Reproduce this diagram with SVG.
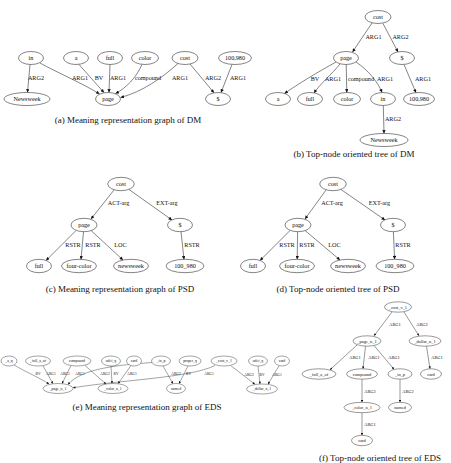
<svg xmlns="http://www.w3.org/2000/svg" width="451" height="463" viewBox="0 0 451 463">
<defs>
<marker id="ah" viewBox="0 0 10 10" refX="10" refY="5" markerWidth="4.5" markerHeight="3.4" markerUnits="userSpaceOnUse" orient="auto"><path d="M0,0 L10,5 L0,10 z" fill="#111"/></marker>
<marker id="as" viewBox="0 0 10 10" refX="10" refY="5" markerWidth="3" markerHeight="2.4" markerUnits="userSpaceOnUse" orient="auto"><path d="M0,0 L10,5 L0,10 z" fill="#111"/></marker>
</defs>
<style>
text{font-family:"Liberation Serif","Times New Roman",serif;fill:#111;text-anchor:middle}
ellipse{fill:#fff;stroke:#333;stroke-width:0.6}
.n text{font-size:6.2px}
.e path{fill:none;stroke:#333;stroke-width:0.6;marker-end:url(#ah)}
.e text{font-size:6.2px}
.es path{fill:none;stroke:#333;stroke-width:0.45;marker-end:url(#as)}
.es text{font-size:3.6px}
.ns ellipse{stroke-width:0.45}
.ns text{font-size:3.8px}
.nf ellipse{stroke-width:0.5}
.nf text{font-size:4.4px}
.ef path{fill:none;stroke:#333;stroke-width:0.5;marker-end:url(#as)}
.ef text{font-size:4.4px}
.cap{font-size:9px}
</style>

<!-- Panel (a) -->
<g id="edges-a" class="e">
<path d="M30,64.5 L27.5,92.5"/>
<path d="M40,63 C56,72 84,84 99.5,94"/>
<path d="M79,64.5 L104,92.6"/>
<path d="M110,64.5 L109,92.5"/>
<path d="M142,64.5 C136,78 126,88 115.5,93.5"/>
<path d="M178,63.5 C162,78 142,92 120.5,97.5"/>
<path d="M190,64 L214,92.8"/>
<path d="M232,64.5 L221,92.6"/>
<text x="36" y="80">ARG2</text>
<text x="80" y="80">ARG1</text>
<text x="99" y="80">BV</text>
<text x="118" y="80">ARG1</text>
<text x="148" y="80">compound</text>
<text x="180" y="80">ARG1</text>
<text x="213" y="80">ARG2</text>
<text x="238" y="80">ARG1</text>
</g>
<g id="a-in" class="n"><ellipse cx="31" cy="58" rx="12.5" ry="6.5"/><text x="31" y="60">in</text></g>
<g id="a-a" class="n"><ellipse cx="76" cy="58" rx="12.5" ry="6.5"/><text x="76" y="60">a</text></g>
<g id="a-full" class="n"><ellipse cx="110" cy="58" rx="12.5" ry="6.5"/><text x="110" y="60">full</text></g>
<g id="a-color" class="n"><ellipse cx="145" cy="58" rx="13.5" ry="6.5"/><text x="145" y="60">color</text></g>
<g id="a-cost" class="n"><ellipse cx="185" cy="58" rx="13" ry="6.5"/><text x="185" y="60">cost</text></g>
<g id="a-100980" class="n"><ellipse cx="235" cy="58" rx="16.5" ry="6.5"/><text x="235" y="60">100,980</text></g>
<g id="a-newsweek" class="n"><ellipse cx="27" cy="99" rx="23" ry="6.5"/><text x="27" y="101">Newsweek</text></g>
<g id="a-page" class="n"><ellipse cx="108" cy="99" rx="12.5" ry="6.5"/><text x="108" y="101">page</text></g>
<g id="a-dollar" class="n"><ellipse cx="218" cy="99" rx="12.5" ry="6.5"/><text x="218" y="101">$</text></g>
<text class="cap" x="128" y="123">(a) Meaning representation graph of DM</text>

<!-- Panel (b) -->
<g id="edges-b" class="e">
<path d="M372,23 L352.5,52"/>
<path d="M383,23.5 L398,52"/>
<path d="M336,62 C318,72 298,84 284.5,93.5"/>
<path d="M340,64 C332,74 320,84 314,93"/>
<path d="M346.2,64.5 L346.8,92.5"/>
<path d="M356,62 C368,70 378,82 382,92.5"/>
<path d="M404,64.5 L416,92.8"/>
<path d="M383.3,105.5 L384,133.5"/>
<text x="373.5" y="39">ARG1</text>
<text x="400.5" y="39">ARG2</text>
<text x="315" y="81">BV</text>
<text x="333" y="81">ARG1</text>
<text x="361" y="81">compound</text>
<text x="385" y="81">ARG1</text>
<text x="423" y="81">ARG1</text>
<text x="393" y="121">ARG2</text>
</g>
<g id="b-cost" class="n"><ellipse cx="378" cy="17" rx="13" ry="6.5"/><text x="378" y="19">cost</text></g>
<g id="b-page" class="n"><ellipse cx="346" cy="58" rx="12.5" ry="6.5"/><text x="346" y="60">page</text></g>
<g id="b-dollar" class="n"><ellipse cx="402" cy="58" rx="12.5" ry="6.5"/><text x="402" y="60">$</text></g>
<g id="b-a" class="n"><ellipse cx="278" cy="99" rx="12.5" ry="6.5"/><text x="278" y="101">a</text></g>
<g id="b-full" class="n"><ellipse cx="310" cy="99" rx="12.5" ry="6.5"/><text x="310" y="101">full</text></g>
<g id="b-color" class="n"><ellipse cx="347" cy="99" rx="13.5" ry="6.5"/><text x="347" y="101">color</text></g>
<g id="b-in" class="n"><ellipse cx="383" cy="99" rx="12.5" ry="6.5"/><text x="383" y="101">in</text></g>
<g id="b-100980" class="n"><ellipse cx="419" cy="99" rx="15.5" ry="6.5"/><text x="419" y="101">100,980</text></g>
<g id="b-newsweek" class="n"><ellipse cx="384" cy="140" rx="24" ry="6.5"/><text x="384" y="142">Newsweek</text></g>
<text class="cap" x="354" y="157">(b) Top-node oriented tree of DM</text>

<!-- Panel (c) -->
<g id="edges-c" class="e">
<path d="M114,190 L91,219"/>
<path d="M129,189.5 L172,220"/>
<path d="M76,230.5 L46,260.5"/>
<path d="M83.5,231.5 L81,259.5"/>
<path d="M91,230.5 L123,260"/>
<path d="M181,231.5 L184,259.5"/>
<text x="118.5" y="205">ACT-arg</text>
<text x="167" y="205">EXT-arg</text>
<text x="73" y="247">RSTR</text>
<text x="93" y="247">RSTR</text>
<text x="120.5" y="247">LOC</text>
<text x="192" y="247">RSTR</text>
</g>
<g id="c-cost" class="n"><ellipse cx="121" cy="184" rx="13.3" ry="6.7"/><text x="121" y="186">cost</text></g>
<g id="c-page" class="n"><ellipse cx="84" cy="225" rx="13" ry="6.7"/><text x="84" y="227">page</text></g>
<g id="c-dollar" class="n"><ellipse cx="180" cy="225" rx="12.5" ry="6.7"/><text x="180" y="227">$</text></g>
<g id="c-full" class="n"><ellipse cx="39" cy="266" rx="12.5" ry="6.7"/><text x="39" y="268">full</text></g>
<g id="c-fourcolor" class="n"><ellipse cx="79" cy="266" rx="17.5" ry="6.7"/><text x="79" y="268">four-color</text></g>
<g id="c-newsweek" class="n"><ellipse cx="131" cy="266" rx="17.5" ry="6.7"/><text x="131" y="268">newsweek</text></g>
<g id="c-100980" class="n"><ellipse cx="185" cy="266" rx="19" ry="6.7"/><text x="185" y="268">100_980</text></g>
<text class="cap" x="120" y="292">(c) Meaning representation graph of PSD</text>

<!-- Panel (d) -->
<g id="edges-d" class="e">
<path d="M326,190 L305,219"/>
<path d="M341,189.5 L385,220"/>
<path d="M290,230.5 L260,260.5"/>
<path d="M297.6,231.7 L297.2,259.3"/>
<path d="M305,230.5 L340,260"/>
<path d="M393.4,231.7 L394.6,259.3"/>
<text x="332" y="205">ACT-arg</text>
<text x="379.5" y="205">EXT-arg</text>
<text x="287" y="247">RSTR</text>
<text x="307" y="247">RSTR</text>
<text x="334.5" y="247">LOC</text>
<text x="403" y="247">RSTR</text>
</g>
<g id="d-cost" class="n"><ellipse cx="333" cy="184" rx="13.3" ry="6.7"/><text x="333" y="186">cost</text></g>
<g id="d-page" class="n"><ellipse cx="298" cy="225" rx="13" ry="6.7"/><text x="298" y="227">page</text></g>
<g id="d-dollar" class="n"><ellipse cx="393" cy="225" rx="12.5" ry="6.7"/><text x="393" y="227">$</text></g>
<g id="d-full" class="n"><ellipse cx="253" cy="266" rx="12.5" ry="6.7"/><text x="253" y="268">full</text></g>
<g id="d-fourcolor" class="n"><ellipse cx="297" cy="266" rx="17.5" ry="6.7"/><text x="297" y="268">four-color</text></g>
<g id="d-newsweek" class="n"><ellipse cx="348" cy="266" rx="17.5" ry="6.7"/><text x="348" y="268">newsweek</text></g>
<g id="d-100980" class="n"><ellipse cx="395" cy="266" rx="19" ry="6.7"/><text x="395" y="268">100_980</text></g>
<text class="cap" x="338" y="292">(d) Top-node oriented tree of PSD</text>

<!-- Panel (e) -->
<g id="edges-e" class="es">
<path d="M14,365 C26,372 40,378 49,384"/>
<path d="M43,365.8 L53,383.8"/>
<path d="M71,365.5 L62,383.6"/>
<path d="M152,362.5 C120,365 82,368 68,384.5"/>
<path d="M85,365.5 L106,384"/>
<path d="M111,366 L112,383.5"/>
<path d="M131,365.5 L118,383.7"/>
<path d="M163,366 L173,383.8"/>
<path d="M188,366 L179,383.8"/>
<path d="M215,365.5 C190,378 120,380 73,387.8"/>
<path d="M231,365.8 L255,384.3"/>
<path d="M258,366 L260,384"/>
<path d="M279,365.8 L268,384.2"/>
<text x="38" y="375">BV</text>
<text x="51" y="375">ARG1</text>
<text x="65" y="375">ARG1</text>
<text x="80" y="375">ARG1</text>
<text x="105" y="375">ARG2</text>
<text x="116" y="375">BV</text>
<text x="132" y="375">ARG1</text>
<text x="176" y="375">ARG2</text>
<text x="188.5" y="375">BV</text>
<text x="209" y="375">ARG1</text>
<text x="249" y="376">ARG2</text>
<text x="262" y="376">BV</text>
<text x="277" y="376">ARG1</text>
</g>
<g id="e-aq" class="ns"><ellipse cx="9" cy="361" rx="8" ry="5"/><text x="9" y="362.4">_a_q</text></g>
<g id="e-fullaof" class="ns"><ellipse cx="38" cy="361" rx="12.5" ry="5"/><text x="38" y="362.4">_full_a_of</text></g>
<g id="e-compound" class="ns"><ellipse cx="77" cy="361" rx="14" ry="5"/><text x="77" y="362.4">compound</text></g>
<g id="e-udefq1" class="ns"><ellipse cx="111" cy="361" rx="9.5" ry="5"/><text x="111" y="362.4">udef_q</text></g>
<g id="e-card1" class="ns"><ellipse cx="134" cy="361" rx="7.5" ry="5"/><text x="134" y="362.4">card</text></g>
<g id="e-inp" class="ns"><ellipse cx="161" cy="361" rx="9.5" ry="5"/><text x="161" y="362.4">_in_p</text></g>
<g id="e-properq" class="ns"><ellipse cx="190" cy="361" rx="11" ry="5"/><text x="190" y="362.4">proper_q</text></g>
<g id="e-costv1" class="ns"><ellipse cx="224" cy="361" rx="13" ry="5"/><text x="224" y="362.4">_cost_v_1</text></g>
<g id="e-udefq2" class="ns"><ellipse cx="258" cy="361" rx="9.5" ry="5"/><text x="258" y="362.4">udef_q</text></g>
<g id="e-card2" class="ns"><ellipse cx="282" cy="361" rx="7.5" ry="5"/><text x="282" y="362.4">card</text></g>
<g id="e-pagen1" class="ns"><ellipse cx="58" cy="388.5" rx="15" ry="5"/><text x="58" y="389.9">_page_n_1</text></g>
<g id="e-colorn1" class="ns"><ellipse cx="113" cy="388.5" rx="15" ry="5"/><text x="113" y="389.9">_color_n_1</text></g>
<g id="e-named" class="ns"><ellipse cx="176" cy="388.5" rx="9.5" ry="5"/><text x="176" y="389.9">named</text></g>
<g id="e-dollarn1" class="ns"><ellipse cx="262" cy="389" rx="15.5" ry="5"/><text x="262" y="390.4">_dollar_n_1</text></g>
<text class="cap" x="147" y="410">(e) Meaning representation graph of EDS</text>

<!-- Panel (f) -->
<g id="edges-f" class="ef">
<path d="M392,312 L374,335.8"/>
<path d="M404,312 L419,335.8"/>
<path d="M357,345 L330,369.8"/>
<path d="M365.5,346.2 L363,368.8"/>
<path d="M374,345.5 L394,369.3"/>
<path d="M426.5,346.2 L430,368.8"/>
<path d="M362,379.2 L362,402.3"/>
<path d="M400,379.2 L400,402.3"/>
<path d="M362,412.7 L362,435.3"/>
<text x="395" y="326">ARG1</text>
<text x="422" y="326">ARG2</text>
<text x="355" y="359">ARG1</text>
<text x="374" y="359">ARG1</text>
<text x="394" y="359">ARG1</text>
<text x="437" y="359">ARG1</text>
<text x="370" y="392.5">ARG2</text>
<text x="408" y="392.5">ARG2</text>
<text x="370" y="426">ARG1</text>
</g>
<g id="f-costv1" class="nf"><ellipse cx="398" cy="307" rx="13.5" ry="5.2"/><text x="398" y="308.5">_cost_v_1</text></g>
<g id="f-pagen1" class="nf"><ellipse cx="367" cy="341" rx="14" ry="5.2"/><text x="367" y="342.5">_page_n_1</text></g>
<g id="f-dollarn1" class="nf"><ellipse cx="425" cy="341" rx="16" ry="5.2"/><text x="425" y="342.5">_dollar_n_1</text></g>
<g id="f-fullaof" class="nf"><ellipse cx="319" cy="374" rx="17" ry="5.2"/><text x="319" y="375.5">_full_a_of</text></g>
<g id="f-compound" class="nf"><ellipse cx="362" cy="374" rx="15.5" ry="5.2"/><text x="362" y="375.5">compound</text></g>
<g id="f-inp" class="nf"><ellipse cx="400" cy="374" rx="12" ry="5.2"/><text x="400" y="375.5">_in_p</text></g>
<g id="f-card1" class="nf"><ellipse cx="431" cy="374" rx="10.5" ry="5.2"/><text x="431" y="375.5">card</text></g>
<g id="f-colorn1" class="nf"><ellipse cx="362" cy="407.5" rx="18" ry="5.2"/><text x="362" y="409">_color_n_1</text></g>
<g id="f-named" class="nf"><ellipse cx="400" cy="407.5" rx="11.5" ry="5.2"/><text x="400" y="409">named</text></g>
<g id="f-card2" class="nf"><ellipse cx="362" cy="440.5" rx="10.5" ry="5.2"/><text x="362" y="442">card</text></g>
<text class="cap" x="380" y="461">(f) Top-node oriented tree of EDS</text>
</svg>
